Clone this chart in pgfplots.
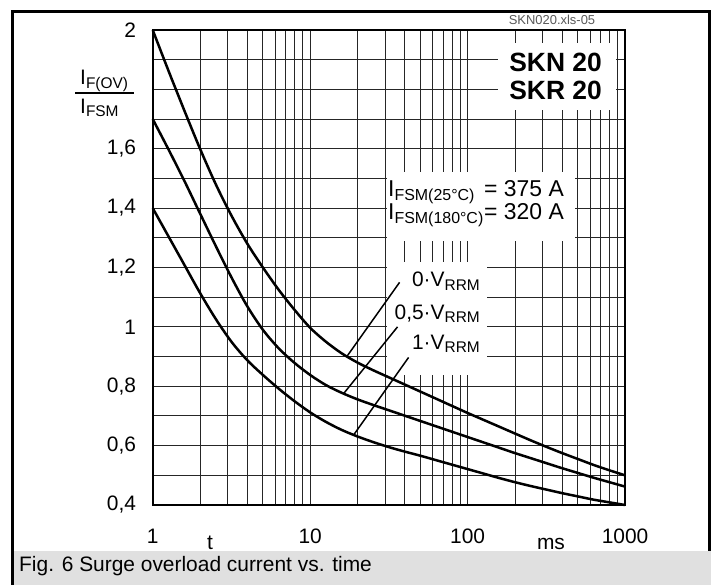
\documentclass[border=0pt]{standalone}
\usepackage{fontspec}
\setmainfont{Liberation Sans}
\usepackage{pgfplots}
\usepackage{pgfplotstable}
\pgfplotsset{compat=1.18}
\definecolor{band}{HTML}{E0E0E0}
\definecolor{gridc}{HTML}{262626}
\newcommand{\fs}[1]{\fontsize{#1}{#1}\selectfont}
\newcommand{\sub}[2][15.5]{\raisebox{-3.5bp}{\fs{#1}#2}}

% t in ms, I_F(OV)/I_FSM for 0, 0.5 and 1 x V_RRM
\pgfplotstableread{
t       v0     v05    v1
1       2.000  1.700  1.400
1.259   1.863  1.598  1.305
1.585   1.730  1.493  1.210
1.995   1.601  1.383  1.115
2.512   1.481  1.273  1.027
3.162   1.375  1.167  0.950
3.981   1.281  1.070  0.888
5.012   1.200  0.990  0.838
6.310   1.125  0.928  0.792
7.943   1.058  0.879  0.750
10      0.997  0.838  0.712
12.59   0.950  0.804  0.680
15.85   0.911  0.778  0.653
19.95   0.880  0.756  0.631
25.12   0.854  0.737  0.612
31.62   0.830  0.719  0.595
39.81   0.806  0.701  0.580
50.12   0.782  0.683  0.566
63.10   0.758  0.665  0.551
79.43   0.734  0.647  0.536
100     0.710  0.629  0.521
125.9   0.687  0.611  0.506
158.5   0.664  0.593  0.491
199.5   0.641  0.575  0.477
251.2   0.618  0.558  0.464
316.2   0.596  0.541  0.452
398.1   0.575  0.524  0.440
501.2   0.555  0.508  0.429
631.0   0.535  0.492  0.418
794.3   0.517  0.477  0.409
1000    0.500  0.462  0.400
}\surge

\begin{document}
\begin{tikzpicture}[x=1bp,y=1bp]
% page: 716 x 585, pixel (X,Y) -> (X, 585-Y)
\useasboundingbox (0,0) rectangle (716,585);
\fill[white] (0,0) rectangle (716,585);
\fill[band] (14,0) rectangle (711,34.3);
\draw[line width=3.4bp] (12.6,0) -- (12.6,573.3) -- (709.3,573.3) -- (709.3,34.3);

\begin{axis}[
    at={(152.7bp,80bp)}, anchor=south west,
    scale only axis, width=472.3bp, height=475bp,
    xmode=log, xmin=1, xmax=1000, ymin=0.4, ymax=2,
    xtick={1,10,100,1000}, xticklabels={1,10,100,1000},
    minor xtick={2,3,4,5,6,7,8,9,20,30,40,50,60,70,80,90,200,300,400,500,600,700,800,900},
    ytick={0.4,0.5,...,2.01},
    yticklabels={{0,4},{},{0,6},{},{0,8},{},{1},{},{1,2},{},{1,4},{},{1,6},{},{},{},{2}},
    major tick length=0pt, minor tick length=0pt,
    grid=both,
    major grid style={gridc, line width=0.9bp},
    minor grid style={gridc, line width=0.9bp},
    axis line style={line width=2bp},
    /pgf/number format/assume math mode=true,
    ticklabel style={font=\fs{21}},
    xticklabel style={anchor=center, yshift=-31bp},
    yticklabel style={anchor=east, inner sep=0pt, xshift=-16.5bp},
    clip=false,
]
% white boxes behind the text
\fill[white] (axis cs:157,1.730) rectangle (axis cs:881,1.956);
\fill[white] (axis cs:31,1.29) rectangle (axis cs:484,1.522);
\fill[white] (axis cs:31,0.838) rectangle (axis cs:133,1.218);

\addplot[black, line width=2.5bp, smooth] table[x=t, y=v0] {\surge};
\addplot[black, line width=2.5bp, smooth] table[x=t, y=v05] {\surge};
\addplot[black, line width=2.5bp, smooth] table[x=t, y=v1] {\surge};

% leader lines
\draw[line width=1.5bp] (axis cs:17.1,0.900) -- (axis cs:37,1.15);
\draw[line width=1.5bp] (axis cs:16.3,0.775) -- (axis cs:35.9,1.0);
\draw[line width=1.5bp] (axis cs:18.9,0.636) -- (axis cs:42.2,0.897);
\end{axis}

% y label as a fraction
\node[anchor=base west, inner sep=0pt] at (80,500) {\fs{21}I\sub{F(OV)}};
\draw[line width=1.8bp] (75,491.7) -- (134,491.7);
\node[anchor=base west, inner sep=0pt] at (80,471.7) {\fs{21}I\sub{FSM}};

% axis titles
\node[anchor=base, inner sep=0pt] at (210,35) {\fs{21}t};
\node[anchor=base, inner sep=0pt] at (551,35) {\fs{21}ms};

% file tag and type names
\node[anchor=center, inner sep=0pt, text=black!65] at (552,565) {\fs{13}SKN020.xls-05};
\node[anchor=base east, inner sep=0pt] at (602,513) {\fs{26.5}\bfseries SKN 20};
\node[anchor=base east, inner sep=0pt] at (602,485) {\fs{26.5}\bfseries SKR 20};

% surge current values
\node[anchor=base west, inner sep=0pt] at (388,388.3) {\fs{23}I\sub[16]{FSM(25°C)}};
\node[anchor=base west, inner sep=0pt] at (484,388.3) {\fs{23}= 375 A};
\node[anchor=base west, inner sep=0pt] at (388,365) {\fs{23}I\sub[16]{FSM(180°C)}};
\node[anchor=base west, inner sep=0pt] at (484,365) {\fs{23}= 320 A};

% curve labels
\node[anchor=base east, inner sep=0pt] at (480,298.3) {\fs{21}0·V\sub{RRM}};
\node[anchor=base east, inner sep=0pt] at (480,265.7) {\fs{21}0,5·V\sub{RRM}};
\node[anchor=base east, inner sep=0pt] at (480,235.7) {\fs{21}1·V\sub{RRM}};

% caption
\node[anchor=base west, inner sep=0pt] at (19,13.3) {\fs{21}Fig. 6 Surge overload current vs. time};
\end{tikzpicture}
\end{document}
